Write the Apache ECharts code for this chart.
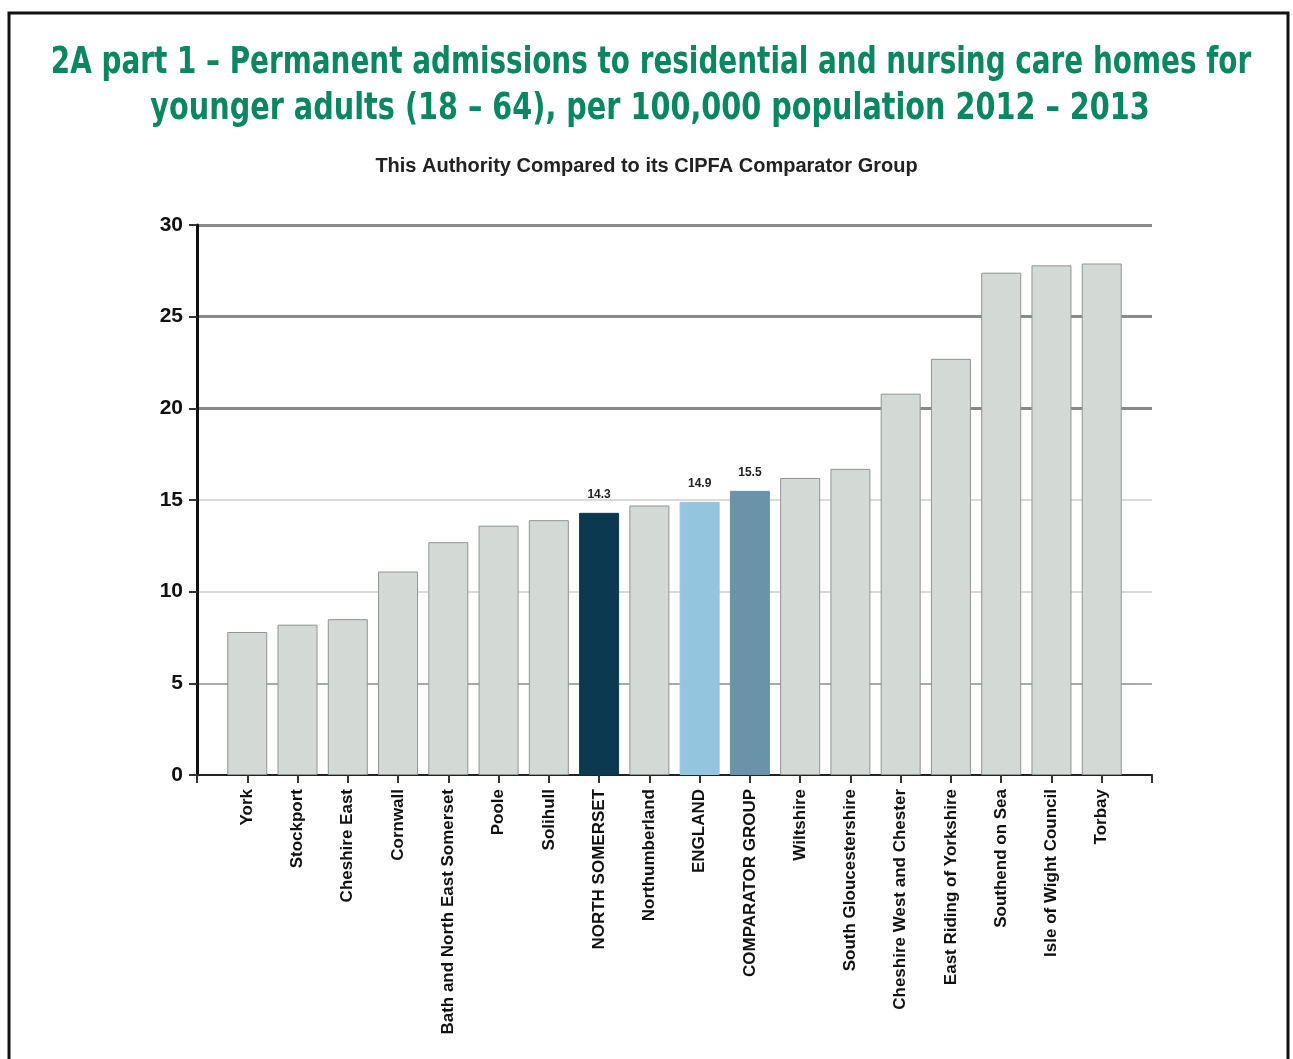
<!DOCTYPE html>
<html>
<head>
<meta charset="utf-8">
<script src="https://cdn.jsdelivr.net/npm/echarts@6/dist/echarts.min.js"></script>
<style>
  html, body { margin: 0; padding: 0; background: #fff; }
  #chart { width: 1293px; height: 1059px; }
</style>
</head>
<body>
<div id="chart"></div>
<script>
const categories = ['York', 'Stockport', 'Cheshire East', 'Cornwall', 'Bath and North East Somerset', 'Poole', 'Solihull', 'NORTH SOMERSET', 'Northumberland', 'ENGLAND', 'COMPARATOR GROUP', 'Wiltshire', 'South Gloucestershire', 'Cheshire West and Chester', 'East Riding of Yorkshire', 'Southend on Sea', 'Isle of Wight Council', 'Torbay'];
const values = [7.8, 8.2, 8.5, 11.1, 12.7, 13.6, 13.9, 14.3, 14.7, 14.9, 15.5, 16.2, 16.7, 20.8, 22.7, 27.4, 27.8, 27.9];
const highlighted = { 'NORTH SOMERSET': '#0b3a50', 'ENGLAND': '#93c5de', 'COMPARATOR GROUP': '#6a93a9' };
const yTicks = [0, 5, 10, 15, 20, 25, 30];
const titleLines = [
  '2A part 1 – Permanent admissions to residential and nursing care homes for',
  'younger adults (18 – 64), per 100,000 population 2012 – 2013'
];
const subtitle = 'This Authority Compared to its CIPFA Comparator Group';

const COND = '"DejaVu Sans Condensed", "Liberation Sans", sans-serif';
const SANS = '"Liberation Sans", Arial, sans-serif';

const axisCats = [''].concat(categories, ['']);
const barData = [null].concat(values.map((v, i) => {
  const c = highlighted[categories[i]];
  if (c) {
    return { value: v, itemStyle: { color: c, borderColor: c }, label: { show: true } };
  }
  return { value: v };
}), [null]);

const chart = echarts.init(document.getElementById('chart'), null, { renderer: 'canvas' });
chart.setOption({
  animation: false,
  backgroundColor: '#ffffff',
  title: [
    {
      text: subtitle,
      left: 'center', top: 151,
      textStyle: { color: '#222', fontFamily: SANS, fontWeight: 'bold', fontSize: 20 }
    }
  ],
  graphic: [
    { type: 'rect', shape: { x: 9, y: 13, width: 1279, height: 1100 }, style: { fill: 'none', stroke: '#111', lineWidth: 3 }, z: 100 },
    { type: 'text', x: 651, y: 63, scaleX: 0.815, style: { text: titleLines[0], font: 'bold 38px ' + COND, fill: '#0a8660', textAlign: 'center', textVerticalAlign: 'middle' } },
    { type: 'text', x: 650, y: 109, scaleX: 0.84, style: { text: titleLines[1], font: 'bold 38px ' + COND, fill: '#0a8660', textAlign: 'center', textVerticalAlign: 'middle' } }
  ],
  grid: { left: 197, right: 141, top: 225, bottom: 284, outerBoundsMode: 'none', containLabel: false },
  xAxis: {
    type: 'category',
    data: axisCats,
    boundaryGap: false,
    axisLine: { show: true, lineStyle: { color: '#222', width: 2 } },
    axisTick: { show: true, interval: 0, length: 8, lineStyle: { color: '#333', width: 2 } },
    axisLabel: { interval: 0, rotate: 90, margin: 14, color: '#111', fontFamily: SANS, fontWeight: 'bold', fontSize: 17 },
    splitLine: { show: false }
  },
  yAxis: [
    {
      type: 'value', min: 0, max: 30, interval: 5,
      axisLine: { show: true, lineStyle: { color: '#111', width: 3 } },
      axisTick: { show: true, length: 8, lineStyle: { color: '#333', width: 2 } },
      axisLabel: {
        margin: 14, color: '#111', fontFamily: SANS, fontWeight: 'bold', fontSize: 21,
        formatter: v => (yTicks.indexOf(v) >= 0 ? String(v) : '')
      },
      splitLine: { show: true, lineStyle: { width: 2, color: ['rgba(0,0,0,0)', '#a9a9a9', '#dadada', '#dadada', 'rgba(0,0,0,0)', 'rgba(0,0,0,0)', 'rgba(0,0,0,0)'] } }
    },
    {
      type: 'value', min: 0, max: 30, interval: 5,
      axisLine: { show: false }, axisTick: { show: false }, axisLabel: { show: false },
      splitLine: { show: true, lineStyle: { width: 3, color: ['rgba(0,0,0,0)', 'rgba(0,0,0,0)', 'rgba(0,0,0,0)', 'rgba(0,0,0,0)', '#8a8a8a', '#8a8a8a', '#8a8a8a'] } }
    }
  ],
  series: [
    {
      type: 'bar',
      yAxisIndex: 0,
      data: barData,
      barWidth: 40,
      itemStyle: { color: '#d3d9d5', borderColor: '#8f9592', borderWidth: 1 },
      label: { show: false, position: 'top', distance: 12, color: '#222', fontFamily: SANS, fontWeight: 'bold', fontSize: 12 }
    }
  ]
});
</script>
</body>
</html>
